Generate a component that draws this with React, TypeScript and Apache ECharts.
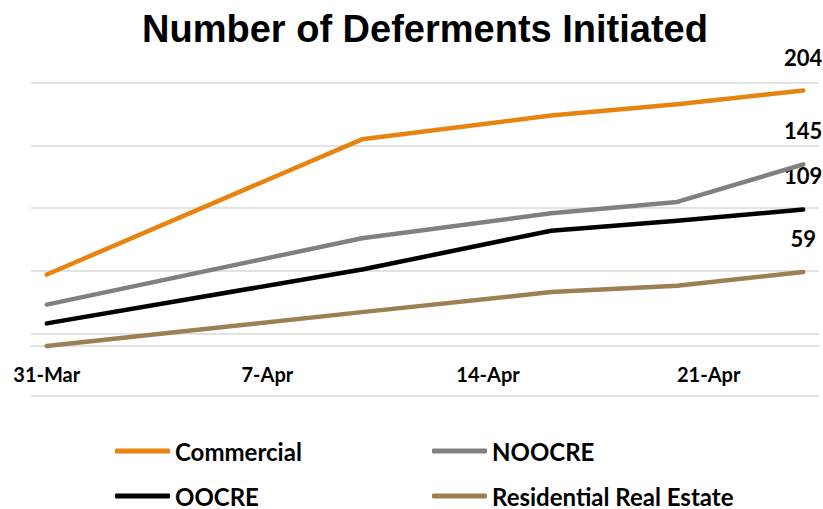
import React, { useEffect, useRef } from "react";
import * as echarts from "echarts";

// Observation dates and cumulative deferment counts per loan type
const dates = ["2020-03-31", "2020-04-10", "2020-04-16", "2020-04-20", "2020-04-24"];
const commercial = [57, 165, 184, 193, 204];
const noocre = [33, 86, 106, 115, 145];
const oocre = [18, 61, 92, 100, 109];
const residential = [0, 27, 43, 48, 59];

// Weekly tick labels on the date axis
const tickDates = ["2020-03-31", "2020-04-07", "2020-04-14", "2020-04-21"];
const tickLabels = ["31-Mar", "7-Apr", "14-Apr", "21-Apr"];

const DAY = 86400000;
const start = Date.parse(dates[0]);
const toDay = (d: string) => Math.round((Date.parse(d) - start) / DAY);
const days = dates.map(toDay);
const tickDays = tickDates.map(toDay);

const FONT = "Lato, 'Noto Sans', sans-serif";

function buildSeries(name: string, values: number[], color: string, z: number) {
  return {
    name,
    type: "line",
    xAxisIndex: 0,
    yAxisIndex: 0,
    z,
    symbol: "circle",
    symbolSize: 1,
    itemStyle: { color },
    lineStyle: { color, width: 4.5, cap: "round", join: "round" },
    label: { show: false },
    emphasis: { disabled: true },
    data: values.map((v, i) => {
      const item: any = { value: [days[i], v] };
      if (i === values.length - 1) {
        item.label = {
          show: true,
          position: "top",
          distance: 22,
          color: "#000",
          fontFamily: FONT,
          fontWeight: "bold",
          fontSize: 22,
        };
      }
      return item;
    }),
  };
}

// One legend block per entry, laid out as a 2 x 2 grid
const legendCells: [string, number, number][] = [
  ["Commercial", 115, 439],
  ["NOOCRE", 432, 439],
  ["OOCRE", 115, 484],
  ["Residential Real Estate", 432, 484],
];

export default function App() {
  const ref = useRef<HTMLDivElement>(null);

  useEffect(() => {
    document.body.style.margin = "0";
    if (!ref.current) return;
    const chart = echarts.init(ref.current, undefined, { renderer: "svg" });

    chart.setOption({
      animation: false,
      backgroundColor: "#fff",
      graphic: [
        {
          type: "text",
          x: 425,
          y: 29,
          style: {
            text: "Number of Deferments Initiated",
            fill: "#000",
            font: "bold 38px 'Liberation Sans', Arial, sans-serif",
            textAlign: "center",
            textVerticalAlign: "middle",
          },
        },
      ],
      grid: { left: 31, right: 4, top: 83, bottom: 113, containLabel: false },
      xAxis: [
        {
          type: "value",
          min: -0.5,
          max: days[days.length - 1] + 0.5,
          axisLine: {
            show: true,
            onZero: true,
            lineStyle: { color: "#d9d9d9", width: 1.5 },
          },
          axisTick: { show: false },
          splitLine: { show: false },
          axisLabel: {
            customValues: tickDays,
            margin: -32,
            color: "#000",
            fontFamily: FONT,
            fontWeight: "bold",
            fontSize: 20,
            formatter: (v: number) => {
              const i = tickDays.indexOf(Math.round(v));
              return i >= 0 ? tickLabels[i] : "";
            },
          },
        },
      ],
      yAxis: [
        {
          type: "value",
          min: -40,
          max: 210,
          axisLine: { show: false },
          axisTick: { show: false },
          axisLabel: { show: false },
          splitLine: { show: false },
        },
        {
          // gridline axis: same span as the value axis shifted by 40
          type: "value",
          min: 0,
          max: 250,
          interval: 50,
          axisLine: { show: false },
          axisTick: { show: false },
          axisLabel: { show: false },
          splitLine: { show: true, lineStyle: { color: "#d9d9d9", width: 1.5 } },
        },
      ],
      legend: legendCells.map(([name, left, top]) => ({
        data: [name],
        orient: "horizontal",
        left,
        top,
        padding: 0,
        itemWidth: 55,
        itemHeight: 5,
        icon: "roundRect",
        selectedMode: false,
        textStyle: {
          color: "#000",
          fontFamily: FONT,
          fontWeight: "bold",
          fontSize: 24,
        },
      })),
      series: [
        buildSeries("Residential Real Estate", residential, "#9c8054", 2),
        buildSeries("OOCRE", oocre, "#000000", 3),
        buildSeries("NOOCRE", noocre, "#808080", 4),
        buildSeries("Commercial", commercial, "#e8830f", 5),
      ],
    });

    return () => chart.dispose();
  }, []);

  return <div ref={ref} style={{ width: 823, height: 509 }} />;
}
